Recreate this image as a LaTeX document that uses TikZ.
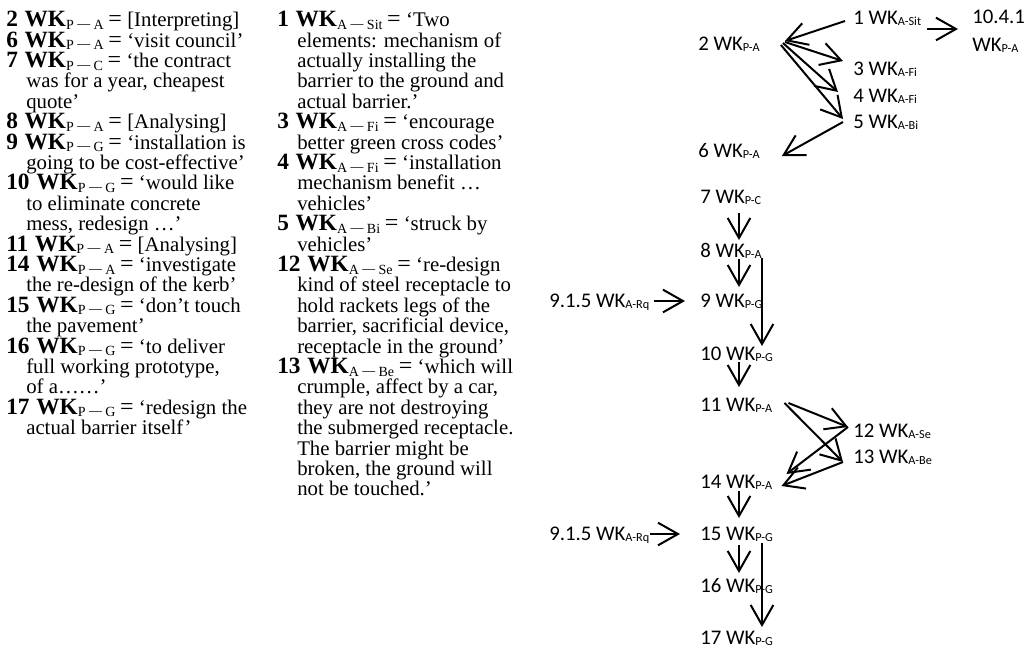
\documentclass[tikz,border=0pt]{standalone}
\usepackage{graphicx}
\usepackage{fontspec}
\setmainfont{Liberation Serif}
\newfontfamily\carlito{Carlito}
\usetikzlibrary{arrows.meta,calc}

\newcommand{\quotefont}{\fontsize{15.6}{15.3}\selectfont\lineskiplimit=-20pt\relax}
\newcommand{\wk}[3]{\textbf{\fontsize{17.5}{17.5}\selectfont #1\hspace{5pt}WK}\raisebox{-2pt}{\fontsize{10.5}{10.5}\selectfont #2\hspace{1.5pt}\scalebox{2}[1]{−}\hspace{1.5pt}#3}\hspace{3.5pt}{\fontsize{18}{18}\selectfont =}\hspace{4pt}}
\newcommand{\swk}[1]{WK\raisebox{-0.8pt}{\fontsize{9.2}{9.2}\selectfont #1}}
\newcommand{\ind}{\hspace*{15pt}}

\begin{document}
\begin{tikzpicture}[x=0.75pt,y=-0.75pt,>={Straight Barb[length=15pt,width=17pt]},
  txt/.style={anchor=north west,inner sep=0pt,align=left,font=\quotefont},
  lbl/.style={anchor=base west,inner sep=0pt,font=\carlito\fontsize{15.6}{21}\selectfont},
  arr/.style={->,line width=1.5pt}]
\useasboundingbox (0,0) rectangle (1031,658);

% quotes
\node[txt] (col1) at (6,11) {\wk{2}{P}{A}[Interpreting]\\
\wk{6}{P}{A}‘visit council’\\
\wk{7}{P}{C}‘the contract\\
\ind was for a year, cheapest\\
\ind quote’\\
\wk{8}{P}{A}[Analysing]\\
\wk{9}{P}{G}‘installation is\\
\ind going to be cost-effective’\\
\wk{10}{P}{G}‘would like\\
\ind to eliminate concrete\\
\ind mess, redesign …’\\
\wk{11}{P}{A}[Analysing]\\
\wk{14}{P}{A}‘investigate\\
\ind the re-design of the kerb’\\
\wk{15}{P}{G}‘don’t touch\\
\ind the pavement’\\
\wk{16}{P}{G}‘to deliver\\
\ind full working prototype,\\
\ind of a……’\\
\wk{17}{P}{G}‘redesign the\\
\ind actual barrier itself’};
\node[txt] (col2) at (277,11) {\wk{1}{A}{Sit}‘Two\\
\ind elements: mechanism of\\
\ind actually installing the\\
\ind barrier to the ground and\\
\ind actual barrier.’\\
\wk{3}{A}{Fi}‘encourage\\
\ind better green cross codes’\\
\wk{4}{A}{Fi}‘installation\\
\ind mechanism benefit …\\
\ind vehicles’\\
\wk{5}{A}{Bi}‘struck by\\
\ind vehicles’\\
\wk{12}{A}{Se}‘re-design\\
\ind kind of steel receptacle to\\
\ind hold rackets legs of the\\
\ind barrier, sacrificial device,\\
\ind receptacle in the ground’\\
\wk{13}{A}{Be}‘which will\\
\ind crumple, affect by a car,\\
\ind they are not destroying\\
\ind the submerged receptacle.\\
\ind The barrier might be\\
\ind broken, the ground will\\
\ind not be touched.’};

% map
\node[lbl] (n1) at (853,24) {1 \swk{A-Sit}};
\node[lbl,align=left,anchor=north west] (n1041) at (972,9.5) {10.4.1\\\swk{P-A}};
\node[lbl] (n2) at (698,50) {2 \swk{P-A}};
\node[lbl] (n3) at (853,75) {3 \swk{A-Fi}};
\node[lbl] (n4) at (853,102) {4 \swk{A-Fi}};
\node[lbl] (n5) at (853,128) {5 \swk{A-Bi}};
\node[lbl] (n6) at (698,157) {6 \swk{P-A}};
\node[lbl] (n7) at (700,203) {7 \swk{P-C}};
\node[lbl] (n8) at (700,257) {8 \swk{P-A}};
\node[lbl] (n9) at (700,307) {9 \swk{P-G}};
\node[lbl] (n915a) at (549,307) {9.1.5 \swk{A-Rq}};
\node[lbl] (n10) at (700,360) {10 \swk{P-G}};
\node[lbl] (n11) at (700,411) {11 \swk{P-A}};
\node[lbl] (n12) at (853,437) {12 \swk{A-Se}};
\node[lbl] (n13) at (853,463) {13 \swk{A-Be}};
\node[lbl] (n14) at (700,488) {14 \swk{P-A}};
\node[lbl] (n15) at (700,540) {15 \swk{P-G}};
\node[lbl] (n915b) at (549,540) {9.1.5 \swk{A-Rq}};
\node[lbl] (n16) at (700,592) {16 \swk{P-G}};
\node[lbl] (n17) at (700,644) {17 \swk{P-G}};

\draw[arr] ($(n1.base west)+(-8,-3)$) -- ($(n2.base east)+(25,-9)$);
\draw[arr] ($(n1.base east)+(6,5)$) -- ($(n1.base east -| n1041.west)+(-14,5)$);
\draw[arr] ($(n2.base east)+(25,-8)$) -- ($(n3.base west)+(-10,-14)$);
\draw[arr] ($(n2.base east)+(23,-7)$) -- ($(n4.base west)+(-15,-10)$);
\draw[arr] ($(n2.base east)+(21,-5)$) -- ($(n5.base west)+(-10,-9)$);
\draw[arr] ($(n5.base west)+(-10,-6)$) -- ($(n6.base east)+(22,-1)$);
\draw[arr] ($(n7.base west)+(39,10)$) -- ($(n8.base west)+(39,-17)$);
\draw[arr] ($(n8.base west)+(39,2)$) -- ($(n9.base west)+(39,-20)$);
\draw[arr] ($(n8.base west)+(62,1)$) -- ($(n10.base west)+(62,-14)$);
\draw[arr] ($(n915a.base east)+(4,-6)$) -- ($(n9.base west)+(-15,-6)$);
\draw[arr] ($(n10.base west)+(39,2)$) -- ($(n11.base west)+(39,-24)$);
\draw[arr] ($(n11.base east)+(16,-8)$) -- ($(n12.base west)+(-5,-10)$);
\draw[arr] ($(n11.base east)+(12,-8)$) -- ($(n13.base west)+(-10,-1)$);
\draw[arr] ($(n12.base west)+(-5,-10)$) -- ($(n14.base east)+(14,-14)$);
\draw[arr] ($(n13.base west)+(-10,-1)$) -- ($(n14.base east)+(9,-2)$);
\draw[arr] ($(n14.base west)+(39,3)$) -- ($(n15.base west)+(39,-22)$);
\draw[arr] ($(n915b.base east)+(0,-6)$) -- ($(n15.base west)+(-20,-6)$);
\draw[arr] ($(n15.base west)+(39,5)$) -- ($(n16.base west)+(39,-19)$);
\draw[arr] ($(n15.base west)+(62,3)$) -- ($(n17.base west)+(62,-17)$);
\end{tikzpicture}
\end{document}
